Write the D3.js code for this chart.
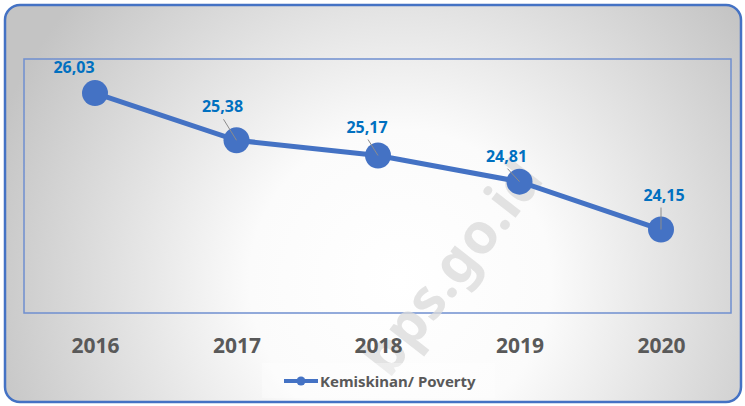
<!DOCTYPE html>
<html>
<head>
<meta charset="utf-8">
<script src="https://cdn.jsdelivr.net/npm/d3@7"></script>
<style>
  body { margin: 0; background: #fff; }
  text { font-family: "Noto Sans", sans-serif; font-weight: bold; }
</style>
</head>
<body>
<div id="chart"></div>
<script>
var years = ["2016", "2017", "2018", "2019", "2020"]
var values = [26.03, 25.38, 25.17, 24.81, 24.15]
var labels = ["26,03", "25,38", "25,17", "24,81", "24,15"]
// label offset from point (dx, dy) and whether a leader line is drawn
var labelDx = [-21, -14, -11, -13, 3]
var labelDy = [-20, -28, -23, -20, -29]
var leader = [false, true, true, true, true]
var seriesName = "Kemiskinan/ Poverty"

var width = 745, height = 406
var blue = "#4472C4"

var svg = d3.select("#chart").append("svg")
    .attr("width", width).attr("height", height)

var defs = svg.append("defs")
var grad = defs.append("radialGradient")
    .attr("id", "bg")
    .attr("gradientUnits", "userSpaceOnUse")
    .attr("cx", 400).attr("cy", 280).attr("r", 430)
grad.append("stop").attr("offset", "0%").attr("stop-color", "#ffffff")
grad.append("stop").attr("offset", "35%").attr("stop-color", "#fbfbfb")
grad.append("stop").attr("offset", "100%").attr("stop-color", "#c4c4c4")

svg.append("rect")
    .attr("x", 5).attr("y", 5)
    .attr("width", 736).attr("height", 397)
    .attr("rx", 15).attr("ry", 15)
    .attr("fill", "url(#bg)")
    .attr("stroke", blue).attr("stroke-width", 2.5)

// plot area
var plot = { left: 24, top: 59, right: 731, bottom: 313 }

var x = d3.scalePoint()
    .domain(years)
    .range([95, 661])

var y = d3.scaleLinear()
    .domain([23, 26.5])
    .range([plot.bottom, plot.top])

svg.append("rect")
    .attr("x", plot.left).attr("y", plot.top)
    .attr("width", plot.right - plot.left)
    .attr("height", plot.bottom - plot.top)
    .attr("fill", "none")
    .attr("stroke", "#6f8fcf").attr("stroke-width", 1.5)

// watermark
svg.append("text")
    .attr("transform", "translate(545,180) rotate(-52)")
    .attr("text-anchor", "end")
    .attr("font-size", 56)
    .attr("fill", "#d9d9d9")
    .attr("fill-opacity", 0.75)
    .text("bps.go.id")

var data = years.map(function(d, i) {
    return { year: d, value: values[i], label: labels[i], i: i }
})

var line = d3.line()
    .x(function(d) { return x(d.year) })
    .y(function(d) { return y(d.value) })

svg.append("path")
    .datum(data)
    .attr("d", line)
    .attr("fill", "none")
    .attr("stroke", blue)
    .attr("stroke-width", 5)

svg.selectAll(".pt")
    .data(data)
    .enter().append("circle")
    .attr("class", "pt")
    .attr("cx", function(d) { return x(d.year) })
    .attr("cy", function(d) { return y(d.value) })
    .attr("r", 13)
    .attr("fill", blue)

svg.selectAll(".leader")
    .data(data.filter(function(d) { return leader[d.i] }))
    .enter().append("line")
    .attr("class", "leader")
    .attr("x1", function(d) { return x(d.year) + labelDx[d.i] + (d.i == 4 ? -3 : 1) })
    .attr("y1", function(d) { return y(d.value) + labelDy[d.i] + 7 })
    .attr("x2", function(d) { return x(d.year) })
    .attr("y2", function(d) { return y(d.value) })
    .attr("stroke", "#8c8c8c")
    .attr("stroke-width", 1)

svg.selectAll(".lbl")
    .data(data)
    .enter().append("text")
    .attr("class", "lbl")
    .attr("x", function(d) { return x(d.year) + labelDx[d.i] })
    .attr("y", function(d) { return y(d.value) + labelDy[d.i] })
    .attr("text-anchor", "middle")
    .attr("font-size", 16)
    .attr("fill", "#0070C0")
    .text(function(d) { return d.label })

var xAxis = svg.append("g")
    .attr("transform", "translate(0," + 353 + ")")
    .call(d3.axisBottom(x).tickSize(0).tickPadding(0))
xAxis.select(".domain").remove()
xAxis.selectAll("text")
    .attr("dy", 0)
    .attr("font-size", 21)
    .attr("font-family", "Noto Sans, sans-serif")
    .attr("font-weight", "bold")
    .attr("fill", "#595959")

// legend
svg.append("rect")
    .attr("x", 262).attr("y", 363)
    .attr("width", 233).attr("height", 35)
    .attr("fill", "#ffffff").attr("fill-opacity", 0.35)
var legend = svg.append("g")
legend.append("line")
    .attr("x1", 284).attr("x2", 318)
    .attr("y1", 381).attr("y2", 381)
    .attr("stroke", blue).attr("stroke-width", 4)
legend.append("circle")
    .attr("cx", 301).attr("cy", 381).attr("r", 4.5)
    .attr("fill", blue)
legend.append("text")
    .attr("x", 320).attr("y", 386.5)
    .attr("font-size", 15)
    .attr("fill", "#595959")
    .text(seriesName)
</script>
</body>
</html>
